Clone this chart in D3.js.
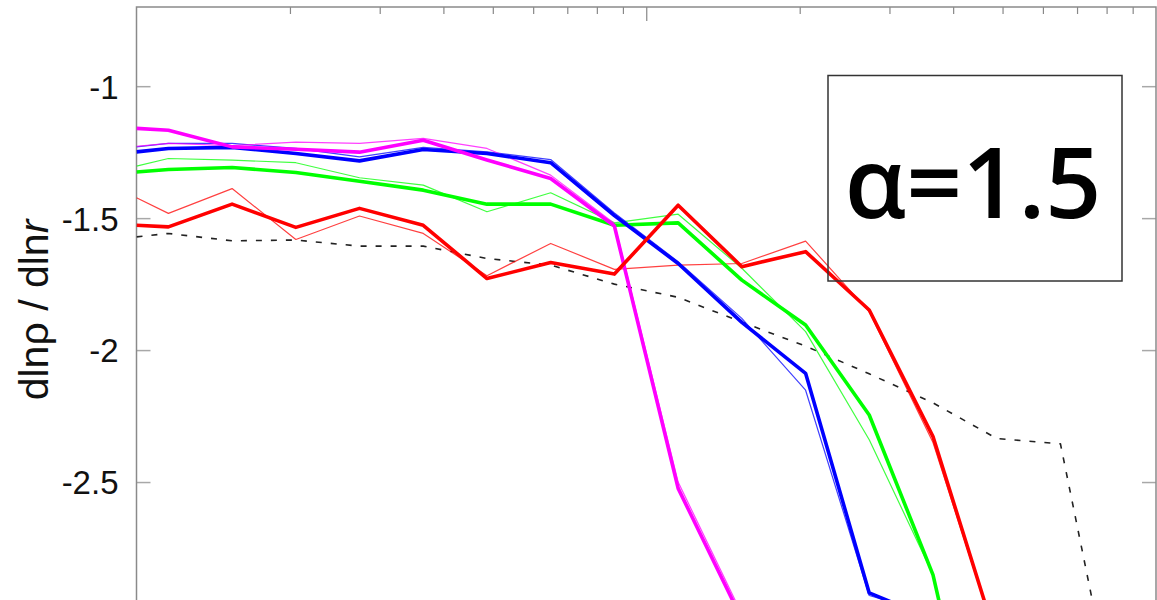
<!DOCTYPE html>
<html>
<head>
<meta charset="utf-8">
<script src="https://cdn.jsdelivr.net/npm/d3@7"></script>
<style>
    html, body { margin: 0; padding: 0; background: #fff; overflow: hidden; }
    .tick text { font-family: "Liberation Sans", Arial, sans-serif; }
</style>
</head>
<body>
<div id="chart"></div>
<script>
// radius bins (log spaced), shared by every curve
var radius = [1, 1.155, 1.540, 2.054, 2.738, 3.652, 4.870, 6.494, 8.660, 11.55, 15.40, 20.54, 27.38, 36.52, 48.70, 64.94, 86.60];

var magentaThick = [-1.160, -1.167, -1.230, -1.239, -1.250, -1.205, -1.280, -1.350, -1.530, -2.524, -3.02];
var magentaThin = [-1.228, -1.217, -1.225, -1.212, -1.217, -1.198, -1.236, -1.337, -1.520, -2.500, -3.00];
var blueThick = [-1.249, -1.236, -1.232, -1.255, -1.283, -1.240, -1.255, -1.290, -1.490, -1.672, -1.895, -2.088, -2.920, -3.02];
var blueThin = [-1.230, -1.217, -1.217, -1.236, -1.268, -1.232, -1.249, -1.278, -1.480, -1.665, -1.880, -2.152, -2.930, -3.00];
var greenThick = [-1.325, -1.316, -1.308, -1.327, -1.360, -1.394, -1.447, -1.447, -1.527, -1.518, -1.735, -1.905, -2.246, -2.852, -3.90];
var greenThin = [-1.303, -1.274, -1.280, -1.290, -1.347, -1.375, -1.476, -1.404, -1.518, -1.485, -1.690, -1.930, -2.340, -2.850, -3.90];
var redThick = [-1.527, -1.533, -1.447, -1.535, -1.463, -1.527, -1.729, -1.668, -1.712, -1.451, -1.684, -1.627, -1.848, -2.328, -3.10];
var redThin = [-1.423, -1.482, -1.388, -1.581, -1.492, -1.558, -1.718, -1.596, -1.694, -1.678, -1.672, -1.587, -1.855, -2.350, -3.10];
var dashedRef = [-1.571, -1.558, -1.586, -1.583, -1.606, -1.606, -1.653, -1.678, -1.750, -1.800, -1.894, -1.985, -2.090, -2.200, -2.335, -2.355, -3.54];

var yTicks = [-1, -1.5, -2, -2.5];
var xMinorTicks = [2, 3, 4, 5, 6, 7, 8, 9, 20, 30, 40, 50, 60, 70, 80, 90];
var xMajorTicks = [10];
var boxLabel = "α=1.5";

var width = 1157, height = 600;
var margin = { top: 7, right: 1, bottom: -14, left: 136.5 };
var innerW = width - margin.left - margin.right,
    innerH = height - margin.top - margin.bottom;

var svg = d3.select("#chart").append("svg")
    .attr("width", width)
    .attr("height", height);

var g = svg.append("g")
    .attr("transform", "translate(" + margin.left + "," + margin.top + ")");

var x = d3.scaleLog().domain([1, 100]).range([0, innerW]);
var y = d3.scaleLinear().domain([-0.7, -3.0]).range([0, innerH]);

g.append("clipPath").attr("id", "plotClip")
    .append("rect").attr("width", innerW).attr("height", innerH);

// frame + ticks
var frameColor = "#8a8a8a", tickColor = "#a8a8a8";

var leftAxis = g.append("g")
    .call(d3.axisLeft(y).tickValues(yTicks).tickSize(-14).tickPadding(18)
        .tickFormat(function (d) { return String(d); }));
leftAxis.select(".domain").remove();
leftAxis.selectAll(".tick line").attr("stroke", tickColor).attr("stroke-width", 1.5);
leftAxis.selectAll(".tick text")
    .attr("fill", "#111")
    .style("font-size", "33px")
    .attr("dy", "0.36em");

var rightAxis = g.append("g")
    .attr("transform", "translate(" + innerW + ",0)")
    .call(d3.axisRight(y).tickValues(yTicks).tickSize(-14).tickFormat(""));
rightAxis.select(".domain").remove();
rightAxis.selectAll(".tick line").attr("stroke", tickColor).attr("stroke-width", 1.5);

var topMinor = g.append("g")
    .call(d3.axisTop(x).tickValues(xMinorTicks).tickSize(-7).tickFormat(""));
topMinor.select(".domain").remove();
topMinor.selectAll(".tick line").attr("stroke", "#888").attr("stroke-width", 1.2);

var topMajor = g.append("g")
    .call(d3.axisTop(x).tickValues(xMajorTicks).tickSize(-14).tickFormat(""));
topMajor.select(".domain").remove();
topMajor.selectAll(".tick line").attr("stroke", "#888").attr("stroke-width", 1.2);

g.append("path")
    .attr("d", "M0," + innerH + "V0H" + innerW + "V" + innerH)
    .attr("fill", "none")
    .attr("stroke", frameColor)
    .attr("stroke-width", 1.5);

// curves
var line = d3.line()
    .x(function (d) { return x(d[0]); })
    .y(function (d) { return y(d[1]); });

function pairs(values) {
    return values.map(function (v, i) { return [radius[i], v]; });
}

var series = [
    { values: dashedRef, color: "#222", w: 1.6, dash: "6,9" },
    { values: greenThin, color: "#00ff00", w: 1.2, op: 0.75 },
    { values: blueThin, color: "#0000ff", w: 1.2, op: 0.75 },
    { values: magentaThin, color: "#ff00ff", w: 1.2, op: 0.75 },
    { values: redThin, color: "#ff0000", w: 1.2, op: 0.75 },
    { values: greenThick, color: "#00ff00", w: 3.6 },
    { values: blueThick, color: "#0000ff", w: 3.6 },
    { values: magentaThick, color: "#ff00ff", w: 3.6 },
    { values: redThick, color: "#ff0000", w: 3.6 }
];

var curves = g.append("g").attr("clip-path", "url(#plotClip)");
series.forEach(function (s) {
    curves.append("path")
        .datum(pairs(s.values))
        .attr("d", line)
        .attr("fill", "none")
        .attr("stroke", s.color)
        .attr("stroke-width", s.w)
        .attr("stroke-opacity", s.op || 1)
        .attr("stroke-linejoin", "round")
        .attr("stroke-dasharray", s.dash || null);
});

// label box (transparent, curves show through it)
svg.append("rect")
    .attr("x", 828).attr("y", 75.5)
    .attr("width", 294).attr("height", 205.5)
    .attr("fill", "none")
    .attr("stroke", "#333")
    .attr("stroke-width", 1.5);

svg.append("text")
    .attr("x", 973).attr("y", 218)
    .attr("text-anchor", "middle")
    .style("font-family", "'Open Sans', 'Noto Sans', sans-serif")
    .style("font-weight", 600)
    .style("font-size", "98px")
    .attr("fill", "#000")
    .text(boxLabel);

// y label
var ylab = svg.append("text")
    .attr("transform", "translate(48,310) rotate(-90)")
    .attr("text-anchor", "middle")
    .style("font-family", "'Liberation Sans', Arial, sans-serif")
    .style("font-size", "41px")
    .attr("fill", "#111");
ylab.append("tspan").text("dlnρ / dln");
ylab.append("tspan").style("font-style", "italic").text("r");
</script>
</body>
</html>
